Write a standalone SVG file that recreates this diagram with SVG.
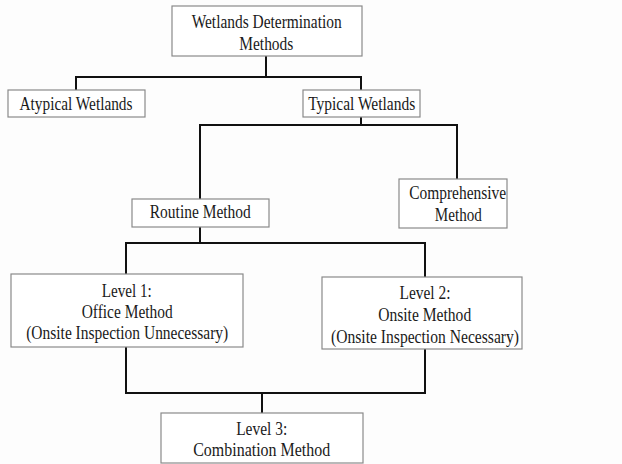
<svg xmlns="http://www.w3.org/2000/svg" width="622" height="464" viewBox="0 0 622 464">
<style>
.box{fill:#fff;stroke:#8a8a8a;stroke-width:1.2}
.t{font-family:"Liberation Serif","Times New Roman",serif;font-size:18px;fill:#1a1a1a;text-anchor:middle}
.c{fill:none;stroke:#111;stroke-width:2}
</style>
<rect width="622" height="464" fill="#fdfdfd"/>
<g id="connectors">
<path class="c" d="M266 56V77M76 90V77H361V90"/>
<path class="c" d="M361 117V125M200 199V125H457V179"/>
<path class="c" d="M200 227V243M126 274V243H425V277"/>
<path class="c" d="M126 347V393H425V349M262 393V413"/>
</g>
<g id="n-root"><rect class="box" x="172" y="6" width="190" height="50"/><text class="t" x="266.7" y="28" textLength="150" lengthAdjust="spacingAndGlyphs">Wetlands Determination</text><text class="t" x="266.3" y="50" textLength="54" lengthAdjust="spacingAndGlyphs">Methods</text></g>
<g id="n-atypical"><rect class="box" x="8" y="90" width="137" height="27"/><text class="t" x="76" y="110" textLength="113" lengthAdjust="spacingAndGlyphs">Atypical Wetlands</text></g>
<g id="n-typical"><rect class="box" x="303" y="90" width="117" height="27"/><text class="t" x="361.7" y="110" textLength="107" lengthAdjust="spacingAndGlyphs">Typical Wetlands</text></g>
<g id="n-routine"><rect class="box" x="132" y="199" width="137" height="28"/><text class="t" x="200.3" y="218" textLength="101" lengthAdjust="spacingAndGlyphs">Routine Method</text></g>
<g id="n-comprehensive"><rect class="box" x="399" y="179" width="108" height="49"/><text class="t" x="457.7" y="199" textLength="97" lengthAdjust="spacingAndGlyphs">Comprehensive</text><text class="t" x="458.3" y="221" textLength="47" lengthAdjust="spacingAndGlyphs">Method</text></g>
<g id="n-level1"><rect class="box" x="11" y="274" width="232" height="73"/><text class="t" x="126.7" y="297" textLength="50" lengthAdjust="spacingAndGlyphs">Level 1:</text><text class="t" x="127.2" y="318" textLength="91" lengthAdjust="spacingAndGlyphs">Office Method</text><text class="t" x="127.2" y="339" textLength="202" lengthAdjust="spacingAndGlyphs">(Onsite Inspection Unnecessary)</text></g>
<g id="n-level2"><rect class="box" x="322" y="277" width="200" height="72"/><text class="t" x="425" y="299" textLength="51" lengthAdjust="spacingAndGlyphs">Level 2:</text><text class="t" x="424.7" y="321" textLength="93" lengthAdjust="spacingAndGlyphs">Onsite Method</text><text class="t" x="425" y="343" textLength="188" lengthAdjust="spacingAndGlyphs">(Onsite Inspection Necessary)</text></g>
<g id="n-level3"><rect class="box" x="161" y="413" width="202" height="50"/><text class="t" x="261.7" y="435" textLength="51" lengthAdjust="spacingAndGlyphs">Level 3:</text><text class="t" x="261.7" y="456" textLength="137" lengthAdjust="spacingAndGlyphs">Combination  Method</text></g>
</svg>
